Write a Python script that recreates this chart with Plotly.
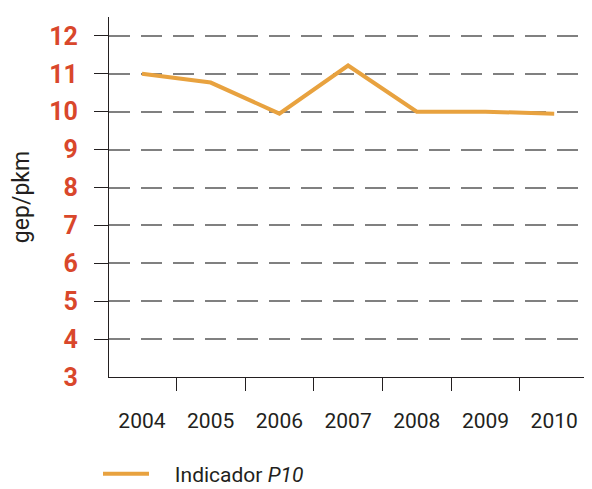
import plotly.graph_objects as go

years = ["2004", "2005", "2006", "2007", "2008", "2009", "2010"]
values = [11.0, 10.77, 9.95, 11.22, 10.0, 10.0, 9.95]
y_ticks = [3, 4, 5, 6, 7, 8, 9, 10, 11, 12]
y_ticks_marked = [4, 5, 6, 7, 8, 9, 10, 11, 12]
series_name = "\u00a0\u00a0\u00a0\u00a0Indicador <i>P10</i>"

DARK = "#231F20"
RED = "#D9472B"
ORANGE = "#E8A23F"
FONT = "Roboto"

# The page body keeps an 8px margin, so the figure is drawn 8px smaller
# and all positions are measured from (8, 8).
W, H = 584, 481

fig = go.Figure()
fig.add_trace(go.Scatter(
    x=years, y=values, mode="lines", name=series_name,
    line=dict(color=ORANGE, width=4), hoverinfo="skip",
))
fig.add_trace(go.Scatter(
    x=years, y=values, mode="lines", yaxis="y2", showlegend=False,
    line=dict(color="rgba(0,0,0,0)", width=0), hoverinfo="skip",
))

fig.update_layout(
    width=W, height=H,
    margin=dict(l=101, r=0, t=9, b=112, autoexpand=False),
    plot_bgcolor="white", paper_bgcolor="white",
    font=dict(family=FONT, color=DARK),
    xaxis=dict(
        type="category", range=[-0.48, 6.55], tickson="boundaries",
        ticks="outside", ticklen=13, tickwidth=1.2, tickcolor=DARK,
        showline=True, linecolor=DARK, linewidth=1.2, showgrid=False,
        tickfont=dict(family=FONT, size=21, color=DARK),
        ticklabelstandoff=25, automargin=False,
    ),
    yaxis=dict(
        range=[3, 12.5], tickvals=y_ticks, ticktext=[str(v) for v in y_ticks],
        showline=True, linecolor=DARK, linewidth=1.2,
        showgrid=True, gridcolor="#808080", gridwidth=1.5, griddash="21px,11px",
        zeroline=False, ticks="", automargin=False,
        tickfont=dict(family=FONT, size=25, color=RED, weight="bold"),
        ticklabelstandoff=25,
        title=dict(text="gep/pkm", font=dict(family=FONT, size=23, color=DARK), standoff=14),
    ),
    yaxis2=dict(
        range=[3, 12.5], overlaying="y", side="left", tickvals=y_ticks_marked,
        ticks="outside", ticklen=14, tickwidth=1.2, tickcolor=DARK,
        showticklabels=False, showgrid=False, zeroline=False, showline=False,
        automargin=False,
    ),
    showlegend=True,
    legend=dict(
        orientation="h", xref="container", yref="container",
        x=90 / W, y=1 - 466 / H, xanchor="left", yanchor="middle",
        font=dict(family=FONT, size=21, color=DARK), itemwidth=46,
        bgcolor="rgba(0,0,0,0)",
    ),
)

fig.write_html("out.html")
